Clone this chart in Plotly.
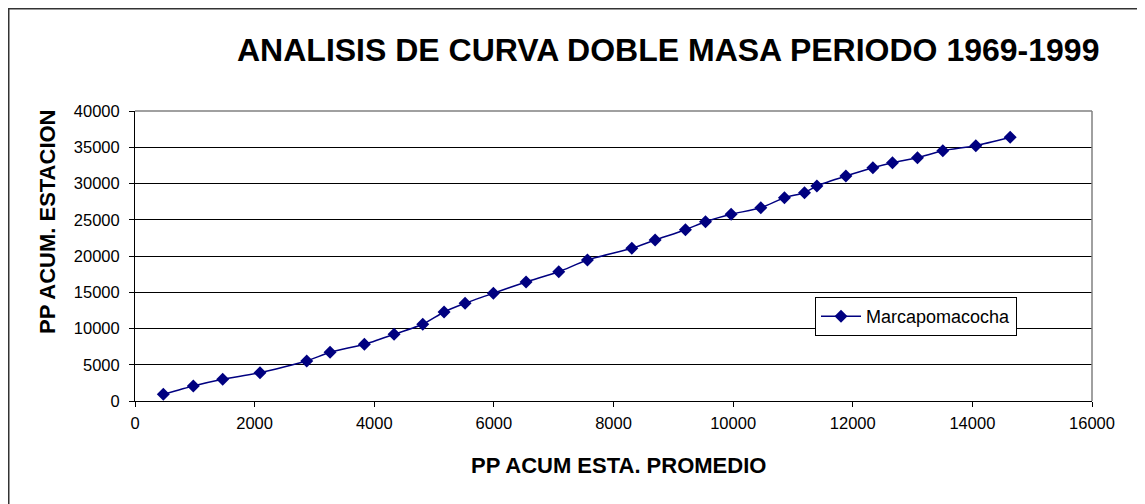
import plotly.graph_objects as go

pp_promedio = [473, 975, 1466, 2090, 2871, 3261, 3835, 4331, 4811, 5167, 5518,
               5992, 6538, 7085, 7564, 8306, 8696, 9203, 9538, 9967, 10463, 10858,
               11193, 11400, 11885, 12336, 12664, 13082, 13506, 14058, 14632]
pp_estacion = [924, 2069, 2993, 3903, 5517, 6717, 7821, 9200, 10579, 12276, 13476,
               14855, 16414, 17834, 19448, 21062, 22207, 23628, 24731, 25752, 26662, 28041,
               28731, 29655, 31034, 32179, 32869, 33559, 34524, 35214, 36372]
x_ticks = [0, 2000, 4000, 6000, 8000, 10000, 12000, 14000, 16000]
y_ticks = [0, 5000, 10000, 15000, 20000, 25000, 30000, 35000, 40000]

# page is offset by the 8px body margin
OFF = 8
W, H = 1145 - OFF, 504 - OFF
L, T = 135 - OFF, 111 - OFF
Rx, By = 1092 - OFF, 401 - OFF
pw, ph = Rx - L, By - T
R, B = W - Rx, H - By


def px(xp):  # figure pixel x -> paper
    return (xp - L) / pw


def py(yp):  # figure pixel y -> paper
    return 1 - (yp - T) / ph


fig = go.Figure()
fig.add_trace(go.Scatter(
    x=pp_promedio, y=pp_estacion, mode="lines+markers", name="Marcapomacocha",
    line=dict(color="#000080", width=1.5, shape="spline", smoothing=0.6),
    marker=dict(symbol="diamond", size=10, color="#000080"),
))

font = "Liberation Sans, Arial, sans-serif"
fig.update_layout(
    width=W, height=H,
    margin=dict(l=L, r=R, t=T, b=B),
    paper_bgcolor="white", plot_bgcolor="white",
    font=dict(family=font, size=16, color="black"),
    showlegend=True,
    legend=dict(x=px(815 - OFF), y=py(297 - OFF), xanchor="left", yanchor="top",
                bordercolor="black", borderwidth=1, bgcolor="white",
                font=dict(size=18, family=font), itemwidth=40,
                tracegroupgap=0),
    xaxis=dict(range=[0, 16000], tickvals=x_ticks, tickformat="d", showgrid=False, zeroline=False,
               showline=True, linecolor="black", linewidth=1,
               ticks="outside", ticklen=5, tickcolor="black",
               ticklabelstandoff=2,
               tickfont=dict(size=16.5)),
    yaxis=dict(range=[0, 40000], tickvals=y_ticks, tickformat="d", showgrid=True,
               gridcolor="black", gridwidth=1,
               zeroline=False, showline=True, linecolor="black", linewidth=1,
               ticks="outside", ticklen=5, tickcolor="black",
               ticklabelstandoff=6,
               tickfont=dict(size=16.5)),
    annotations=[
        dict(text="<b>ANALISIS DE CURVA DOBLE MASA PERIODO 1969-1999</b>",
             xref="paper", yref="paper", x=px(668 - OFF), y=py(50 - OFF),
             xanchor="center", yanchor="middle", showarrow=False,
             font=dict(size=32, family=font)),
        dict(text="<b>PP ACUM ESTA. PROMEDIO</b>",
             xref="paper", yref="paper", x=px(618 - OFF), y=py(465 - OFF),
             xanchor="center", yanchor="middle", showarrow=False,
             font=dict(size=22, family=font)),
        dict(text="<b>PP ACUM. ESTACION</b>", textangle=-90,
             xref="paper", yref="paper", x=px(47 - OFF), y=py(222 - OFF),
             xanchor="center", yanchor="middle", showarrow=False,
             font=dict(size=22, family=font)),
    ],
    shapes=[
        dict(type="line", xref="paper", yref="paper", x0=1, x1=1, y0=0, y1=1,
             line=dict(color="#808080", width=1.5)),
        dict(type="line", xref="paper", yref="paper", x0=0, x1=1, y0=1, y1=1,
             line=dict(color="#808080", width=1.5)),
        # outer chart border (top and left)
        dict(type="line", xref="paper", yref="paper",
             x0=px(0.5), x1=px(W + 5), y0=py(0.75), y1=py(0.75),
             line=dict(color="#333333", width=1.5)),
        dict(type="line", xref="paper", yref="paper",
             x0=px(0.75), x1=px(0.75), y0=py(0), y1=py(H + 5),
             line=dict(color="#333333", width=1.5)),
    ],
)
fig.write_html("out.html")
